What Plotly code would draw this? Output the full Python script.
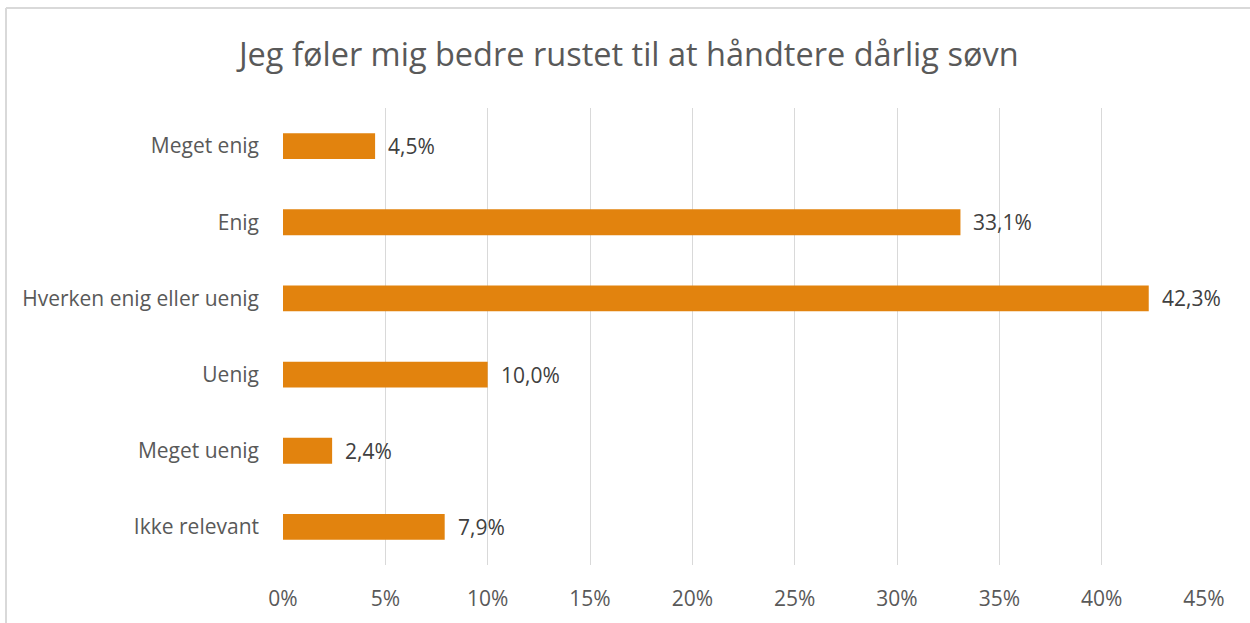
import plotly.graph_objects as go

categories = ["Meget enig", "Enig", "Hverken enig eller uenig", "Uenig", "Meget uenig", "Ikke relevant"]
values = [4.5, 33.1, 42.3, 10.0, 2.4, 7.9]
tick_vals = [0, 5, 10, 15, 20, 25, 30, 35, 40, 45]
tick_text = [f"{v}%" for v in tick_vals]
title = "Jeg føler mig bedre rustet til at håndtere dårlig søvn"

FONT = "Open Sans"
fig = go.Figure(go.Bar(
    x=values, y=categories, orientation="h",
    marker=dict(color="#E2830E", line=dict(width=0)),
    hoverinfo="skip",
))

for c, v in zip(categories, values):
    fig.add_annotation(x=v, y=c, text=f"{v:.1f}%".replace(".", ","), showarrow=False,
                       xanchor="left", yanchor="middle", xshift=11,
                       font=dict(size=21, color="#404040", family=FONT))

L, R, T, B = 283, 1204, 108, 565
W, H = 1250, 623
pw, ph = R - L, B - T
def px(x): return (x - L) / pw
def py(y): return (B - y) / ph

fig.update_layout(
    width=W, height=H,
    margin=dict(l=L, r=W - R, t=T, b=H - B, pad=0),
    paper_bgcolor="white", plot_bgcolor="white",
    bargap=0.66,
    showlegend=False,
    title=dict(text=title, x=0.503, xanchor="center", y=1 - 55 / H, yanchor="middle",
               font=dict(size=32.5, color="#595959", family=FONT)),
    xaxis=dict(range=[0, 45], tickvals=tick_vals, ticktext=tick_text,
               showgrid=True, gridcolor="#D9D9D9", gridwidth=1.3,
               zeroline=False, showline=False, ticks="",
               tickfont=dict(size=21, color="#595959", family=FONT),
               ticklabelstandoff=19),
    yaxis=dict(categoryorder="array", categoryarray=categories, autorange="reversed",
               showgrid=False, showline=False, ticks="",
               tickfont=dict(size=21, color="#595959", family=FONT),
               ticklabelstandoff=23),
    shapes=[
        dict(type="line", xref="paper", yref="paper", x0=px(6), x1=px(6), y0=py(8), y1=py(640),
             line=dict(color="#D9D9D9", width=2)),
        dict(type="line", xref="paper", yref="paper", x0=px(6), x1=px(1260), y0=py(8), y1=py(8),
             line=dict(color="#D9D9D9", width=2)),
    ],
)

fig.write_html("out.html", config={"displayModeBar": False},
               post_script="document.body.style.margin='0';document.body.style.overflow='hidden';")
